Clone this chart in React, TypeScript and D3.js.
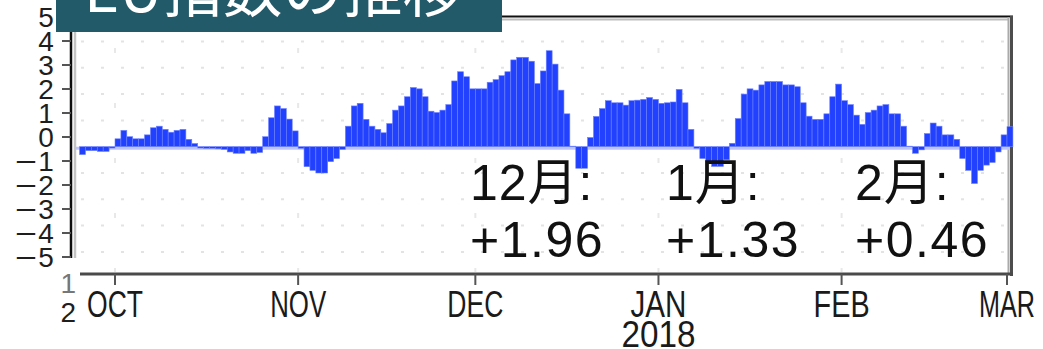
import React from 'react';
import * as d3 from 'd3';

const W = 1043;
const H = 349;

// Daily EU index values, one array per month
const sepStart = '2017-09-25';
const sepValues = [-0.3, -0.15, -0.15, -0.18, -0.18, -0.05];
const octValues = [
  0.3, 0.62, 0.38, 0.3, 0.3, 0.45, 0.72, 0.78, 0.66, 0.55, 0.62, 0.66, 0.28, 0.12, -0.05, -0.06,
  -0.06, -0.08, -0.1, -0.2, -0.25, -0.25, -0.15, -0.25, -0.22, 0.38, 1.1, 1.55, 1.45, 1.05, 0.6,
];
const novValues = [
  -0.06, -0.76, -0.9, -1.0, -1.0, -0.57, -0.45, -0.1, 0.78, 1.55, 1.65, 1.04, 0.78, 0.66, 0.53,
  0.88, 1.39, 1.55, 1.9, 2.25, 2.2, 1.9, 1.35, 1.3, 1.39, 1.6, 2.5, 2.85, 2.66, 2.2,
];
const decValues = [
  2.2, 2.2, 2.45, 2.55, 2.7, 2.85, 3.3, 3.4, 3.4, 3.25, 2.4, 2.88, 3.65, 3.14, 2.15, 1.25, 0.02,
  -0.82, -0.82, 0.35, 1.15, 1.45, 1.75, 1.67, 1.67, 1.58, 1.75, 1.77, 1.8, 1.87, 1.8,
];
const janValues = [
  1.65, 1.67, 1.7, 2.18, 1.67, 0.66, -0.06, -0.45, -0.55, -0.75, -0.75, -0.5, 0.13, 1.07, 2.0,
  2.2, 2.15, 2.35, 2.48, 2.48, 2.48, 2.35, 2.35, 2.28, 1.67, 1.16, 1.04, 1.04, 1.25, 1.9, 2.38,
];
const febValues = [
  1.75, 1.6, 1.2, 0.85, 1.3, 1.39, 1.55, 1.6, 1.25, 1.25, 0.78, 0.02, -0.25, -0.12, 0.5, 0.9,
  0.78, 0.45, 0.45, 0.28, -0.45, -0.9, -1.4, -0.9, -0.7, -0.6, -0.2, 0.45,
];
const marValues = [0.76];

const monthStarts = ['2017-10-01', '2017-11-01', '2017-12-01', '2018-01-01', '2018-02-01', '2018-03-01'];
const monthLabels = ['OCT', 'NOV', 'DEC', 'JAN', 'FEB', 'MAR'];
const yearLabel = '2018';

const yTickValues = [5, 4, 3, 2, 1, 0, -1, -2, -3, -4, -5];
const gridValues = [4, 3, 2, 1, -1, -2, -3, -4];

const noteMonths = ['12月:', '1月:', '2月:'];
const noteMeans = ['+1.96', '+1.33', '+0.46'];

const titleText = 'EU指数の推移';

const parse = d3.utcParse('%Y-%m-%d');

function buildDays() {
  const groups = [sepValues, octValues, novValues, decValues, janValues, febValues, marValues];
  const start = parse(sepStart) as Date;
  const out: { date: Date; value: number }[] = [];
  let i = 0;
  for (const g of groups) {
    for (const v of g) {
      out.push({ date: d3.utcDay.offset(start, i), value: v });
      i += 1;
    }
  }
  return out;
}

export default function App() {
  const days = buildDays();

  const x = d3
    .scaleUtc()
    .domain([parse('2017-10-01') as Date, parse('2018-03-01') as Date])
    .range([115, 1007]);
  const yBar = d3.scaleLinear().domain([0, 1]).range([146.7, 120.4]);
  const yLab = d3.scaleLinear().domain([-5, 5]).range([257, 17]);

  const plotLeft = 75;
  const plotRight = 1010;
  const axisY = 274;
  const noteX = [470, 666, 855];

  const font = "'Liberation Sans', Arial, 'Noto Sans CJK JP', sans-serif";

  return (
    <svg
      width={W}
      height={H}
      style={{ position: 'absolute', left: 0, top: 0, display: 'block' }}
      fontFamily={font}
    >
      <rect width={W} height={H} fill="#ffffff" />

      {/* dotted grid */}
      {gridValues.map((v) => (
        <line
          key={'h' + v}
          x1={plotLeft + 1}
          x2={plotRight - 3}
          y1={yBar(v)}
          y2={yBar(v)}
          stroke="#e3e3e3"
          strokeWidth={2}
          strokeDasharray="3 17"
          strokeDashoffset={15}
        />
      ))}
      {monthStarts.slice(0, 5).map((m) => (
        <line
          key={'v' + m}
          x1={x(parse(m) as Date)}
          x2={x(parse(m) as Date)}
          y1={20}
          y2={272}
          stroke="#e8e8e8"
          strokeWidth={2}
          strokeDasharray="5 50"
          strokeDashoffset={27}
        />
      ))}

      {/* frame */}
      <line x1={71} x2={1013} y1={16.5} y2={16.5} stroke="#111" strokeWidth={2} />
      <line x1={76} x2={1008} y1={19.5} y2={19.5} stroke="#bdbdbd" strokeWidth={2} />
      <line x1={1008.5} x2={1008.5} y1={17} y2={274} stroke="#aaaaaa" strokeWidth={2} />
      <line x1={1011.5} x2={1011.5} y1={16} y2={276} stroke="#4d4d4d" strokeWidth={3} />

      {/* zero line */}
      <line
        x1={plotLeft + 1}
        x2={plotRight}
        y1={yBar(0) + 1.5}
        y2={yBar(0) + 1.5}
        stroke="#bcc3ff"
        strokeWidth={3}
      />

      {/* daily bars */}
      {days.map((d) => {
        const x0 = x(d.date);
        const x1 = x(d3.utcDay.offset(d.date, 1));
        const y0 = yBar(0);
        const yv = yBar(d.value);
        return (
          <rect
            key={d.date.toISOString()}
            x={x0}
            width={x1 - x0}
            y={Math.min(y0, yv)}
            height={Math.abs(yv - y0)}
            fill="#2241ff"
            stroke="#6d80ff"
            strokeWidth={0.6}
          />
        );
      })}

      {/* left axis */}
      <line x1={75} x2={75} y1={16} y2={258} stroke="#c4c4c4" strokeWidth={2.5} />
      <line x1={71} x2={71} y1={16} y2={258} stroke="#0d0d0d" strokeWidth={2.5} />
      {yTickValues.map((v) => (
        <g key={'yt' + v}>
          <line x1={62} x2={71} y1={yLab(v)} y2={yLab(v)} stroke="#555" strokeWidth={2} />
          <text x={46} y={yLab(v) + 10} fontSize={28} textAnchor="middle" fill="#1e1e1e">
            {Math.abs(v)}
          </text>
          {v < 0 && (
            <text
              x={15}
              y={yLab(v) + 10}
              fontSize={28}
              fill="#1e1e1e"
              textLength={22}
              lengthAdjust="spacingAndGlyphs"
            >
              −
            </text>
          )}
        </g>
      ))}
      <text x={76} y={293} fontSize={28} textAnchor="end" fill="#777">
        1
      </text>
      <text x={76} y={322} fontSize={28} textAnchor="end" fill="#1e1e1e">
        2
      </text>

      {/* bottom axis */}
      <line x1={80} x2={1013} y1={axisY} y2={axisY} stroke="#4a4a4a" strokeWidth={3} />
      {monthStarts.map((m, i) => {
        const xm = x(parse(m) as Date);
        return (
          <g key={'xt' + m}>
            <line x1={xm} x2={xm} y1={axisY} y2={285} stroke="#555" strokeWidth={2} />
            <text
              x={xm - 28}
              y={317}
              fontSize={37}
              fill="#1a1a1a"
              textLength={56}
              lengthAdjust="spacingAndGlyphs"
            >
              {monthLabels[i]}
            </text>
          </g>
        );
      })}
      <text
        x={x(parse('2018-01-01') as Date) - 37}
        y={347}
        fontSize={37}
        fill="#1a1a1a"
        textLength={74}
        lengthAdjust="spacingAndGlyphs"
      >
        {yearLabel}
      </text>

      {/* monthly means */}
      {noteMonths.map((t, i) => (
        <g key={'n' + i}>
          <text x={noteX[i]} y={200} fontSize={50} fill="#111" letterSpacing={1}>
            {t}
          </text>
          <text x={noteX[i]} y={257} fontSize={50} fill="#111" letterSpacing={1.5}>
            {noteMeans[i]}
          </text>
        </g>
      ))}

      {/* title box */}
      <rect x={56} y={0} width={446} height={32} fill="#225a69" />
      <text
        x={84}
        y={12}
        fontSize={60}
        fill="#ffffff"
        fontFamily="'Noto Sans CJK JP', 'Noto Sans', sans-serif"
      >
        {titleText}
      </text>
    </svg>
  );
}
